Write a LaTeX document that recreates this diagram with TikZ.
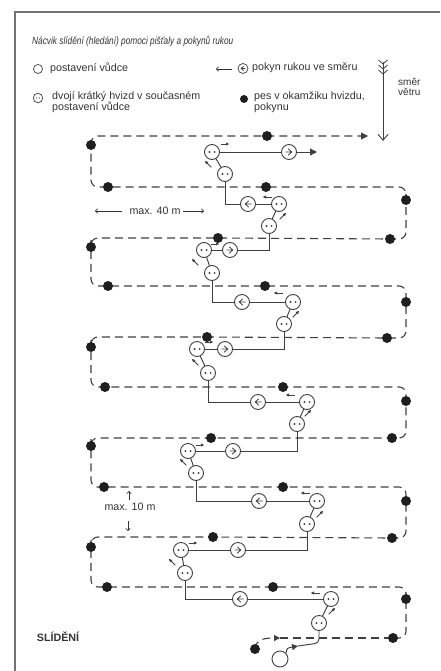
\documentclass[tikz,border=0pt]{standalone}
\usepackage{fontspec}
\setmainfont{Liberation Sans}
\usetikzlibrary{arrows.meta,backgrounds}
\definecolor{linegray}{gray}{0.25}
\definecolor{dotc}{gray}{0.12}
\definecolor{framec}{gray}{0.45}
\definecolor{txtc}{gray}{0.2}
\newcommand\lgf{\fontsize{10.7}{11}\selectfont}
\tikzset{
  circ/.style={circle, draw=linegray, fill=white, line width=0.9pt, inner sep=0pt, minimum size=15pt},
  face/.style={circ, path picture={\fill[linegray, shift={(path picture bounding box.center)}, x=#1pt, y=#1pt] (-2.6,0) circle[radius=1.1] (2.6,0) circle[radius=1.1];}},
  face/.default=1,
  handL/.style={circ, path picture={\draw[linegray, line width=0.8pt, shift={(path picture bounding box.center)}, x=#1pt, y=#1pt] (3.5,0) -- (-2.8,0) (0.8,3.2) -- (-2.8,0) -- (0.8,-3.2);}},
  handL/.default=1,
  handR/.style={circ, path picture={\draw[linegray, line width=0.8pt, shift={(path picture bounding box.center)}, x=#1pt, y=#1pt] (-3.5,0) -- (2.8,0) (-0.8,3.2) -- (2.8,0) -- (-0.8,-3.2);}},
  handR/.default=1,
  dd/.style={circle, fill=dotc, inner sep=0pt, minimum size=10pt},
  dog/.style={draw=linegray, line width=1.1pt, dash pattern=on 8pt off 5pt, rounded corners=7pt},
  lead/.style={draw=linegray, line width=0.95pt},
  sa/.style={draw=linegray, line width=0.75pt, -{Latex[length=3.5pt,width=3.4pt]}},
  thinarr/.style={draw=txtc, line width=0.6pt, -{To[length=3pt,width=5pt]}},
  txt/.style={inner sep=0pt, text=txtc, font=\lgf},
}
\begin{document}
\begin{tikzpicture}[x=1pt,y=-1pt]
\useasboundingbox (0,0) rectangle (440,671);
% frame
\draw[framec, line width=1.2pt] (15,671) -- (15,12) -- (440,12);

% title and legend
\node[txt, anchor=west] (title) at (32,41) {\scalebox{0.79}[1]{\fontsize{10.5}{12}\selectfont\itshape Nácvik slídění (hledání) pomoci pišťaly a pokynů rukou}};
\node[circ, minimum size=9pt, line width=0.7pt] (L1) at (38,69) {};
\node[txt, anchor=west] (L1t) at (50,68) {postavení vůdce};
\node[face=0.6, minimum size=9.5pt, line width=0.7pt] (L2) at (38,98) {};
\node[txt, anchor=west, align=left] (L2t) at (52,102.5) {dvojí krátký hvizd v současném\\postavení vůdce};
\coordinate (La1) at (232,69);
\coordinate (La2) at (216,69);
\draw[thinarr] (La1) -- (La2);
\node[handL=0.65, minimum size=10pt, line width=0.7pt] (L3) at (243,68.5) {};
\node[txt, anchor=west] (L3t) at (252,68) {pokyn rukou ve směru};
\node[dd, minimum size=8pt] (L4) at (244,99) {};
\node[txt, anchor=west, align=left] (L4t) at (254,102) {pes v okamžiku hvizdu,\\pokynu};
% wind
\coordinate (w1) at (383,62);
\coordinate (w2) at (383,141);
\draw[lead, -{Straight Barb[length=6pt,width=10pt]}] (w1) -- (w2);
\foreach \yy in {64,69,74} \draw[lead, line width=0.8pt] (378.5,\yy-4) -- (383,\yy) -- (387.5,\yy-4);
\node[txt, anchor=west, align=left, font=\fontsize{10}{9.5}\selectfont] (wt) at (398,87) {směr\\větru};

% labels
\node[txt] (m40) at (155,211) {max. 40 m};
\coordinate (m40a) at (122,211); \coordinate (m40b) at (95,211);
\coordinate (m40c) at (183,211); \coordinate (m40d) at (204,211);
\draw[thinarr] (m40a) -- (m40b);
\draw[thinarr] (m40c) -- (m40d);
\node[txt] (m10) at (130,507) {max. 10 m};
\coordinate (m10a) at (129,500); \coordinate (m10b) at (129,491);
\coordinate (m10c) at (128,521); \coordinate (m10d) at (128,531);
\draw[thinarr] (m10a) -- (m10b);
\draw[thinarr] (m10c) -- (m10d);
\node[txt, font=\lgf\bfseries] (sl) at (58,637) {SLÍDĚNÍ};

% dog dots
\node[dd] (dS) at (255,649) {};
\node[dd] (dR11) at (393,638) {};
\node[dd] (dV10r) at (406,599) {};
\node[dd] (dM10) at (273,587) {};
\node[dd] (dL10) at (107,587) {};
\node[dd] (dV9l) at (91,547) {};
\node[dd] (dM9) at (213,537) {};
\node[dd] (dR9) at (392,538) {};
\node[dd] (dV8r) at (406,501) {};
\node[dd] (dM8) at (283,487) {};
\node[dd] (dL8) at (104,487) {};
\node[dd] (dV7l) at (91,446) {};
\node[dd] (dM7) at (211,438) {};
\node[dd] (dR7) at (392,438) {};
\node[dd] (dV6r) at (406,401) {};
\node[dd] (dM6) at (283,387) {};
\node[dd] (dL6) at (105,387) {};
\node[dd] (dV5l) at (91,347) {};
\node[dd] (dM5) at (207,337) {};
\node[dd] (dR5) at (387,338) {};
\node[dd] (dV4r) at (406,302) {};
\node[dd] (dM4) at (265,286) {};
\node[dd] (dL4) at (108,286) {};
\node[dd] (dV3l) at (91,247) {};
\node[dd] (dM3) at (218,238) {};
\node[dd] (dR3) at (390,239) {};
\node[dd] (dV2r) at (406,200) {};
\node[dd] (dM2) at (266,187) {};
\node[dd] (dL2) at (108,187) {};
\node[dd] (dV1l) at (91,145) {};
\node[dd] (dM1) at (267,136) {};
\coordinate (Etop) at (368,136);
\coordinate (b1) at (280,638);

% leader circles
\node[face] (C1) at (212,152) {};
\node[face] (C2) at (225,174) {};
\node[face] (C3) at (279,204) {};
\node[face] (C4) at (269,226) {};
\node[face] (C5) at (204,250) {};
\node[face] (C6) at (212,273) {};
\node[face] (C7) at (293,302) {};
\node[face] (C8) at (284,324) {};
\node[face] (C9) at (197,349) {};
\node[face] (C10) at (208,373) {};
\node[face] (C11) at (307,402) {};
\node[face] (C12) at (297,424) {};
\node[face] (C13) at (188,451) {};
\node[face] (C14) at (196,473) {};
\node[face] (C15) at (317,501) {};
\node[face] (C16) at (307,524) {};
\node[face] (C17) at (181,550) {};
\node[face] (C18) at (185,573) {};
\node[face] (C19) at (331,599) {};
\node[face] (C20) at (319,623) {};
\node[circ, minimum size=16pt] (S) at (280,659) {};
\coordinate (E) at (317,152);
\coordinate (b2) at (298,646);

% hand signs
\node[handR] (H1) at (289,152) {};
\node[handL] (H2) at (248,204) {};
\node[handR] (H3) at (230,250) {};
\node[handL] (H4) at (242,302) {};
\node[handR] (H5) at (225,349) {};
\node[handL] (H6) at (258,402) {};
\node[handR] (H7) at (233,451) {};
\node[handL] (H8) at (259,501) {};
\node[handR] (H9) at (238,550) {};
\node[handL] (H10) at (240,599) {};

\begin{scope}[on background layer]
% dog path
\draw[dog, -{Triangle[length=6pt,width=6pt]}] (dS.center) .. controls (256,641) and (260,638) .. (b1);
\draw[dog] (b1) -- (dR11.center);
\draw[dog, -{Triangle[length=7pt,width=7pt]}] (dR11.center) -- (406,638) -- (dV10r.center) -- (406,587) -- (dM10.center) -- (dL10.center) -- (91,587) -- (dV9l.center) -- (91,537) -- (dM9.center) -- (dR9.center) -- (406,538) -- (dV8r.center) -- (406,487) -- (dM8.center) -- (dL8.center) -- (91,487) -- (dV7l.center) -- (91,438) -- (dM7.center) -- (dR7.center) -- (406,438) -- (dV6r.center) -- (406,387) -- (dM6.center) -- (dL6.center) -- (91,387) -- (dV5l.center) -- (91,337) -- (dM5.center) -- (dR5.center) -- (406,338) -- (dV4r.center) -- (406,286) -- (dM4.center) -- (dL4.center) -- (91,286) -- (dV3l.center) -- (91,238) -- (dM3.center) -- (dR3.center) -- (406,239) -- (dV2r.center) -- (406,187) -- (dM2.center) -- (dL2.center) -- (91,187) -- (dV1l.center) -- (91,136) -- (dM1.center) -- (Etop);
% leader path
\draw[lead, -{Triangle[length=7pt,width=7pt]}] (C1.center) -- (E);
\foreach \a/\b in {C1/C2,C3/C4,C5/C6,C7/C8,C9/C10,C11/C12,C13/C14,C15/C16,C17/C18,C19/C20}
  \draw[lead] (\a.center) -- (\b.center);
\foreach \a/\b in {C2/C3,C4/C5,C6/C7,C8/C9,C10/C11,C12/C13,C14/C15,C16/C17,C18/C19}
  \draw[lead] (\a.center) |- (\b.center);
\draw[lead, -{Triangle[length=6pt,width=6pt]}] (S.north east) .. controls (287,648) .. (b2);
\draw[lead, rounded corners=4pt] (b2) -- (319,643) -- (C20.center);
\end{scope}

% small arrows
\foreach \x/\y in {225/144, 215/244, 209/342, 200/445, 193/543}
  \draw[sa] (\x-4.5,\y) -- (\x+4.5,\y);
\foreach \x/\y in {267/197, 278/293, 290/395, 305/493, 315/593}
  \draw[sa] (\x+4.5,\y) -- (\x-4.5,\y);
\foreach \x/\y in {208/164, 195/262, 195/362, 183/462, 172/562}
  \draw[sa] (\x+3.3,\y+3.3) -- (\x-3.3,\y-3.3);
\foreach \x/\y in {283/216, 296/314, 308/413, 320/514, 332/611}
  \draw[sa] (\x-3.3,\y+3.3) -- (\x+3.3,\y-3.3);
\end{tikzpicture}
\end{document}
